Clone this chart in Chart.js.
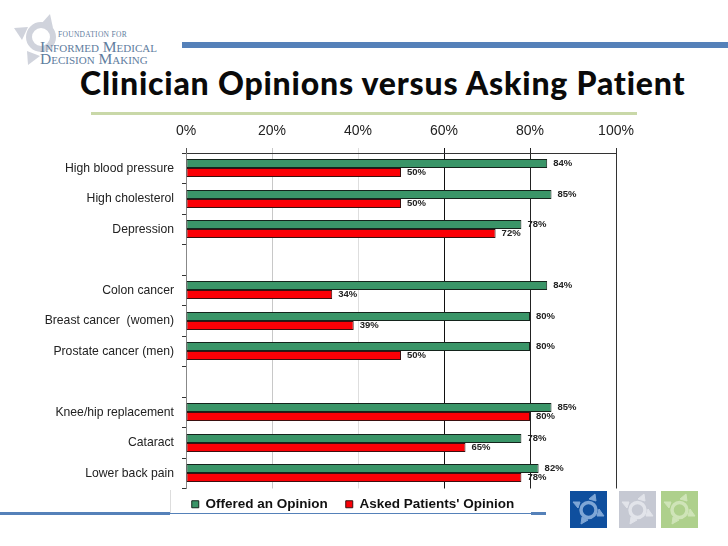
<!DOCTYPE html>
<html>
<head>
<meta charset="utf-8">
<title>Clinician Opinions versus Asking Patient</title>
<script src="https://cdn.jsdelivr.net/npm/chart.js@4"></script>
<style>
  html, body { margin: 0; padding: 0; background: #fff; }
  #page { position: relative; width: 728px; height: 546px; overflow: hidden; background: #fff; }
  #page > * { position: absolute; }
  #title { left: 80px; top: 63px; margin: 0; font: 900 32px Lato, sans-serif; letter-spacing: 0.8px; color: #0a0a0a; white-space: nowrap; }
  .rule-blue { background: #5581b9; }
  .rule-green { background: #c9d8a8; }
  #chart { left: 0; top: 115px; }
  .org { font-family: "Liberation Serif", serif; color: #5f7d9e; white-space: nowrap; }
</style>
</head>
<body>
<div id="page">
  <svg style="left:0;top:0" width="80" height="70" viewBox="0 0 80 70">
    <circle cx="41" cy="37" r="12" fill="none" stroke="#d0d3dc" stroke-width="6"/>
    <polygon points="50,14 53,28 41,24" fill="#d0d3dc"/>
    <polygon points="14,28 28,27 22,40" fill="#d0d3dc"/>
    <polygon points="27,51 40,56 28,65" fill="#d0d3dc"/>
  </svg>
  <div class="org" style="left:58px;top:30px;font-size:7.5px;letter-spacing:.3px">FOUNDATION FOR</div>
  <div class="org" style="left:40px;top:38px;font-size:15.5px;font-variant:small-caps">Informed Medical</div>
  <div class="org" style="left:40px;top:50px;font-size:15.5px;font-variant:small-caps">Decision Making</div>

  <div class="rule-blue" style="left:182px;top:42px;width:546px;height:6px"></div>
  <h1 id="title">Clinician Opinions versus Asking Patient</h1>
  <div class="rule-green" style="left:91px;top:112px;width:546px;height:3px"></div>

  <canvas id="chart" width="706" height="415" style="width:706px;height:415px"></canvas>

  <div style="left:170px;top:490px;width:1px;height:23px;background:#ddd"></div>
  <div class="rule-blue" style="left:0;top:512px;width:170px;height:3px"></div>
  <div class="rule-blue" style="left:170px;top:513px;width:361px;height:1px"></div>
  <div class="rule-blue" style="left:531px;top:512px;width:15px;height:3px"></div>

  <svg style="left:570px;top:491px" width="128" height="37" viewBox="0 0 128 37">
    <defs>
      <g id="mark">
        <circle cx="18.5" cy="19" r="7.5" fill="none" stroke-width="3.5"/>
        <polygon points="25,3 26,10 19,8"/>
        <polygon points="3,11 10,11 8,17"/>
        <polygon points="11,33 12,26 18,29"/>
        <polygon points="34,25 27,25 29,18"/>
      </g>
    </defs>
    <rect x="0" y="0" width="37" height="37" fill="#0f4f9e"/>
    <use href="#mark" fill="#7ea6d6" stroke="#7ea6d6"/>
    <rect x="49" y="0" width="37" height="37" fill="#c6c9d3"/>
    <use href="#mark" x="49" fill="#e2e4ea" stroke="#e2e4ea"/>
    <rect x="91" y="0" width="37" height="37" fill="#aed08c"/>
    <use href="#mark" x="91" fill="#cfe4b8" stroke="#cfe4b8"/>
  </svg>
</div>

<script>
// ===== Data =====
const categories = [
  'High blood pressure', 'High cholesterol', 'Depression', '',
  'Colon cancer', 'Breast cancer  (women)', 'Prostate cancer (men)', '',
  'Knee/hip replacement', 'Cataract', 'Lower back pain'
];
const offeredOpinion = [84, 85, 78, null, 84, 80, 80, null, 85, 78, 82];
const askedOpinion = [50, 50, 72, null, 34, 39, 50, null, 80, 65, 78];
const xTickLabels = ['0%', '20%', '40%', '60%', '80%', '100%'];
const gridColors = ['#555', '#c8c8c8', '#dedede', '#111', '#222', '#333'];

// Snap bar edges to whole pixels so the dark outlines stay even
const snapBars = {
  id: 'snapBars',
  beforeDatasetsDraw(chart) {
    chart.data.datasets.forEach((ds, i) => {
      chart.getDatasetMeta(i).data.forEach(bar => {
        const top = Math.round(bar.y - bar.height / 2);
        const bottom = Math.round(bar.y + bar.height / 2);
        bar.y = (top + bottom) / 2;
        bar.height = bottom - top;
      });
    });
  }
};

// Percent labels next to the bar ends
const barLabels = {
  id: 'barLabels',
  afterDatasetsDraw(chart) {
    const ctx = chart.ctx;
    ctx.save();
    ctx.font = 'bold 9.5px "Liberation Sans", sans-serif';
    ctx.fillStyle = '#222';
    ctx.textBaseline = 'middle';
    chart.data.datasets.forEach((ds, i) => {
      chart.getDatasetMeta(i).data.forEach((bar, j) => {
        if (ds.data[j] == null) return;
        ctx.fillText(ds.data[j] + '%', bar.x + 6, bar.y + (i === 0 ? -0.5 : 0));
      });
    });
    ctx.restore();
  }
};

// Legend needs a wide gap between items but sits close under the plot,
// and is centred on the slide's legend box rather than the canvas
const moveLegend = {
  id: 'moveLegend',
  afterLayout(chart) {
    chart.legend.top -= 9;
    chart.legend.left += 45;
    chart.legend.right += 45;
  }
};

new Chart(document.getElementById('chart'), {
  type: 'bar',
  data: {
    labels: categories,
    datasets: [
      {
        label: 'Offered an Opinion',
        data: offeredOpinion,
        backgroundColor: '#3a9568',
        borderColor: '#14241c',
        borderWidth: 1,
        borderSkipped: false,
        categoryPercentage: 0.6,
        barPercentage: 1
      },
      {
        label: "Asked Patients' Opinion",
        data: askedOpinion,
        backgroundColor: '#fb0006',
        borderColor: '#3a1010',
        borderWidth: 1,
        borderSkipped: false,
        categoryPercentage: 0.6,
        barPercentage: 1
      }
    ]
  },
  options: {
    indexAxis: 'y',
    responsive: false,
    animation: false,
    layout: { padding: { right: 90 } },
    plugins: {
      tooltip: { enabled: false },
      legend: {
        position: 'bottom',
        labels: {
          boxWidth: 7,
          boxHeight: 7,
          padding: 18,
          color: '#111',
          font: { family: '"Liberation Sans", sans-serif', size: 13.5, weight: 'bold' }
        }
      }
    },
    scales: {
      x: {
        position: 'top',
        min: 0,
        max: 100,
        afterBuildTicks: axis => {
          axis.ticks = xTickLabels.map((_, i) => ({ value: i * 20 }));
        },
        afterFit: axis => { axis.height = 38; },
        border: { color: '#333' },
        grid: {
          tickLength: 5,
          color: c => gridColors[c.index],
          tickColor: c => gridColors[c.index]
        },
        ticks: {
          color: '#222',
          padding: 8,
          maxRotation: 0,
          font: { family: '"Liberation Sans", sans-serif', size: 14 },
          callback: (v, i) => xTickLabels[i]
        }
      },
      y: {
        afterFit: axis => { axis.width = 186; },
        border: { color: '#888' },
        grid: { drawOnChartArea: false, tickLength: 4, tickColor: '#333' },
        ticks: {
          color: '#222',
          padding: 8,
          autoSkip: false,
          font: { family: '"Liberation Sans", sans-serif', size: 12.2 }
        }
      }
    }
  },
  plugins: [snapBars, barLabels, moveLegend]
});
</script>
</body>
</html>
